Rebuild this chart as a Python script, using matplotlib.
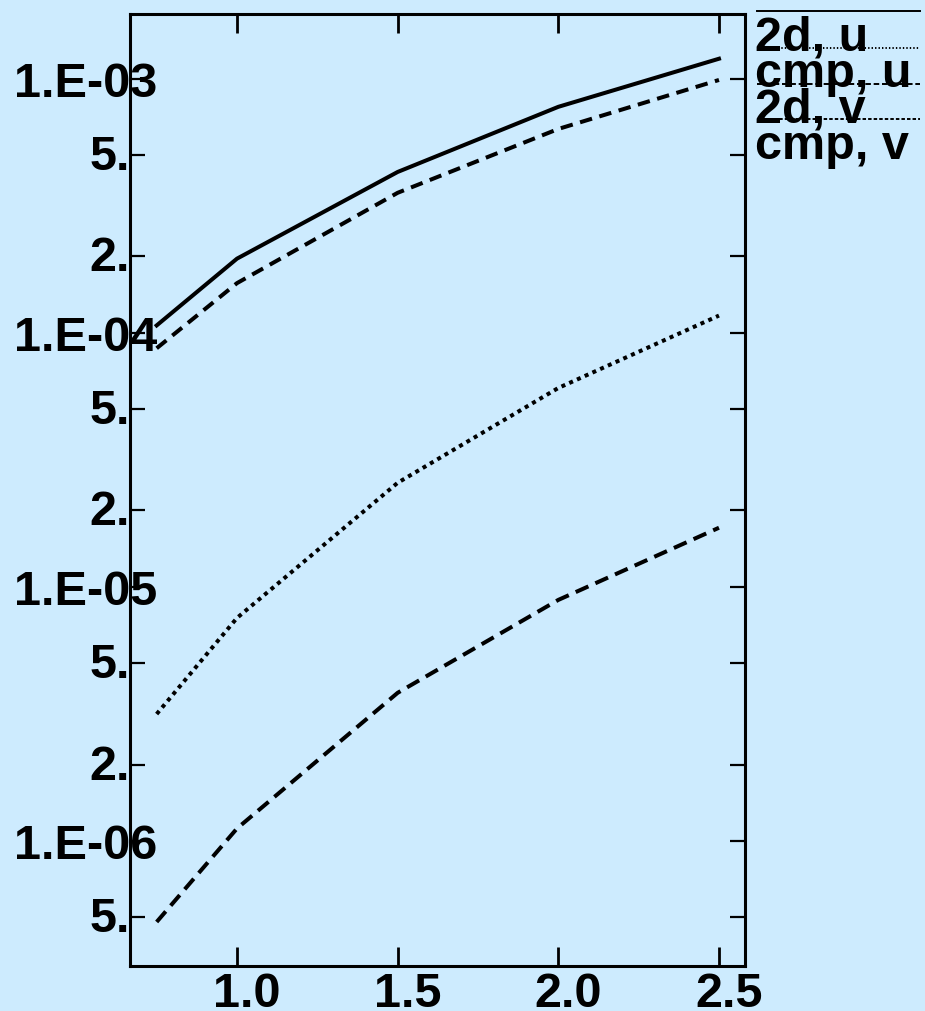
import matplotlib
matplotlib.use("Agg")
import matplotlib.pyplot as plt
import matplotlib.transforms as mtransforms
from matplotlib.lines import Line2D
import numpy as np

# data
x = [0.75, 1.0, 1.5, 2.0, 2.5]
u_2d = [1.07e-4, 1.96e-4, 4.30e-4, 7.76e-4, 1.20e-3]
u_cmp = [3.16e-6, 7.55e-6, 2.57e-5, 6.07e-5, 1.17e-4]
v_2d = [8.7e-5, 1.57e-4, 3.56e-4, 6.35e-4, 9.9e-4]
v_cmp = [4.8e-7, 1.12e-6, 3.83e-6, 8.89e-6, 1.71e-5]

labels = ["2d, u", "cmp, u", "2d, v", "cmp, v"]
xticks = [1.0, 1.5, 2.0, 2.5]
decades = [1e-6, 1e-5, 1e-4, 1e-3]
decade_labels = ["1.E-06", "1.E-05", "1.E-04", "1.E-03"]

bg = "#cdebfe"
font = "Liberation Sans"
plt.rcParams["font.family"] = [font, "DejaVu Sans"]
plt.rcParams["lines.scale_dashes"] = False

W, H = 925, 1011
fig = plt.figure(figsize=(W / 100, H / 100), dpi=100, facecolor=bg)
ax = fig.add_axes([130 / W, 1 - 966 / H, 615 / W, 952 / H], facecolor=bg)

lw = 2.9
ax.plot(x, u_2d, color="black", lw=lw, ls="-")
ax.plot(x, u_cmp, color="black", lw=lw, ls=(0, (2.9, 3.2)))
ax.plot(x, v_2d, color="black", lw=lw, ls=(0, (9, 5.5)))
ax.plot(x, v_cmp, color="black", lw=lw, ls=(0, (10, 5.5)))

ax.set_yscale("log")
ax.set_xlim(0.667, 2.581)
ax.set_ylim(3.22e-7, 1.80e-3)

for s in ax.spines.values():
    s.set_linewidth(2.2)

# px -> points at dpi 100
pt = 0.72

ax.set_xticks(xticks)
ax.set_xticklabels([])
ax.tick_params(axis="x", which="major", direction="in", length=14, width=2,
               top=True, bottom=True)
ax.xaxis.set_minor_locator(plt.NullLocator())
xtr = mtransforms.offset_copy(ax.get_xaxis_transform(), fig=fig,
                              x=10 * pt, y=-41 * pt, units="points")
for t in xticks:
    ax.text(t, 0, f"{t:.1f}", transform=xtr, ha="center", va="baseline",
            fontsize=35, fontweight="bold", clip_on=False)

yt = []
for d in [1e-7, 1e-6, 1e-5, 1e-4, 1e-3]:
    yt += [d, 2 * d, 5 * d]
yt = [v for v in yt if 3.22e-7 <= v <= 1.8e-3]
ax.set_yticks(yt)
ax.yaxis.set_minor_locator(plt.NullLocator())
ax.set_yticklabels([])
ax.tick_params(axis="y", which="major", direction="in", length=10.5, width=1.6,
               left=True, right=True)

tr_dec = mtransforms.offset_copy(ax.get_yaxis_transform(), fig=fig,
                                 y=-18 * pt, units="points")
tr_min = mtransforms.offset_copy(ax.get_yaxis_transform(), fig=fig,
                                 y=-15 * pt, units="points")
for v in yt:
    if v in decades:
        lab = decade_labels[decades.index(v)]
        ax.text(0.044, v, lab, transform=tr_dec, ha="right", va="baseline",
                fontsize=35, fontweight="bold", clip_on=False)
    else:
        lab = f"{int(round(v / 10 ** np.floor(np.log10(v) + 1e-9)))}."
        ax.text(0.0, v, lab, transform=tr_min, ha="right", va="baseline",
                fontsize=35, fontweight="bold", clip_on=False)

# legend drawn beside the axes
leg_styles = ["-", (0, (1, 1.5)), (0, (4, 2)), (0, (2.5, 1.5))]
line_y = [11, 48, 84, 119]
base_y = [51, 87, 123, 159]
for lab, st, ly, by in zip(labels, leg_styles, line_y, base_y):
    fig.add_artist(Line2D([757 / W, 920 / W], [1 - ly / H, 1 - ly / H],
                          transform=fig.transFigure, color="black", lw=1.4, ls=st))
    fig.text(755 / W, 1 - by / H, lab, ha="left", va="baseline",
             fontsize=35, fontweight="bold")

fig.savefig("out.png", dpi=100, facecolor=bg)
